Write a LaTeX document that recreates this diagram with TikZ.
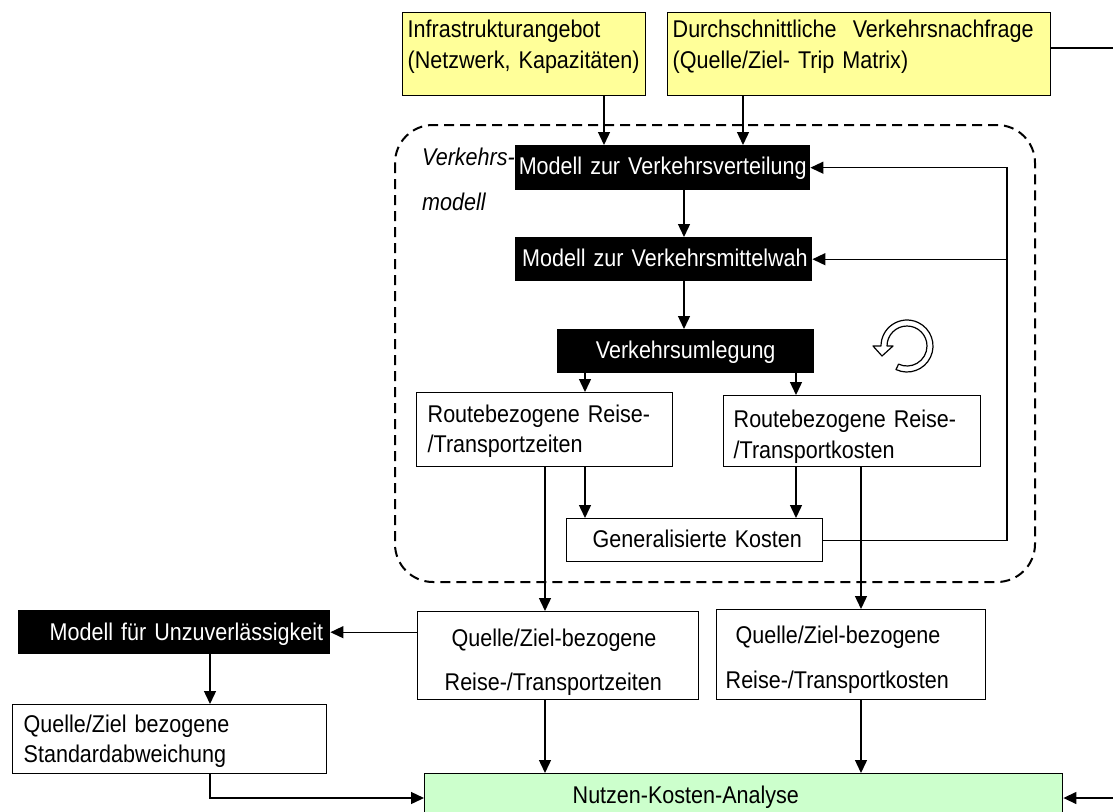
\documentclass[tikz,border=0pt]{standalone}
\usepackage{fontspec}
\setmainfont{Liberation Sans}[FakeStretch=0.89]
\usetikzlibrary{arrows.meta}
\definecolor{inputyellow}{HTML}{FFFF99}
\definecolor{resultgreen}{HTML}{CCFFCC}
\newcommand{\diafont}{\fontsize{24.2}{31}\selectfont}
\tikzset{
  % rect={left}{top}{right}{bottom}{first baseline}{side padding}
  rect/.code n args={6}{%
    \pgfmathsetmacro\rectw{#3-#1-2*#6}%
    \pgfmathsetmacro\recth{#5-#2}%
    \pgfmathsetmacro\rectd{#4-#5}%
    \edef\rectnext{\noexpand\tikzset{anchor=north west, at={(#1,#2)},
      inner xsep=#6pt, inner ysep=0pt, text width=\rectw pt,
      text height=\recth pt, text depth=\rectd pt}}%
    \rectnext},
  whitebox/.style={draw, fill=white, line width=1.4pt, align=left, font=\diafont},
  yellowbox/.style={whitebox, fill=inputyellow},
  greenbox/.style={whitebox, fill=resultgreen},
  blackbox/.style={fill=black, text=white, align=center, font=\diafont},
  arr/.style={line width=1.4pt, -{Triangle[length=13pt,width=12pt]}},
  link/.style={line width=1.4pt},
  modelframe/.style={line width=2pt, dash pattern=on 10pt off 6pt, rounded corners=38pt},
}
\begin{document}
\begin{tikzpicture}[x=1pt,y=-1pt]
\useasboundingbox (0,0) rectangle (1113,811);
\clip (0,0) rectangle (1113,811);

% frame of the traffic model
\draw[modelframe] (395,125) rectangle (1035,582);
\node[align=left, font=\diafont\itshape, rect={422}{143}{520}{230}{165}{0}] (label) {Verkehrs-\\[14pt]modell};

% inputs
\node[yellowbox, rect={402}{12}{645}{95}{37}{5}] (Y1) {Infrastrukturangebot\\(Netzwerk, Kapazitäten)};
\node[yellowbox, rect={667}{12}{1050}{95}{37}{5}] (Y2) {Durchschnittliche\ \ Verkehrsnachfrage\\(Quelle/Ziel- Trip Matrix)};

% model stages
\node[blackbox, rect={515}{145}{810}{190}{174}{2}] (V1) {Modell zur Verkehrsverteilung};
\node[blackbox, align=left, rect={515}{237}{812}{281}{266}{2}] (V2) {\hspace*{5pt}Modell zur Verkehrsmittelwah};
\node[blackbox, rect={557}{329}{814}{373}{358}{2}] (V3) {Verkehrsumlegung};

\node[whitebox, rect={416}{392}{672}{466}{422}{11}] (Rz) {Routebezogene Reise-\\[-1pt]/Transportzeiten};
\node[whitebox, rect={723}{395}{980}{466}{427}{10}] (Rk) {Routebezogene Reise-\\/Transportkosten};
\node[whitebox, rect={566}{518}{822}{561}{547}{10}] (Gen) {\hspace*{16pt}Generalisierte Kosten};

% results
\node[whitebox, rect={417}{611}{698}{699}{646}{27}] (QZz) {\hspace*{7pt}Quelle/Ziel-bezogene\\[13pt]Reise-/Transportzeiten};
\node[whitebox, rect={716}{609}{985}{699}{643}{9}] (QZk) {\hspace*{10pt}Quelle/Ziel-bezogene\\[14pt]Reise-/Transportkosten};
\node[blackbox, align=right, rect={18}{610}{330}{654}{640}{7}] (BU) {Modell für Unzuverlässigkeit};
\node[whitebox, rect={12}{704}{326}{773}{732}{11}] (Std) {Quelle/Ziel bezogene\\[-1pt]Standardabweichung};
\node[greenbox, rect={424}{773}{1062}{840}{803}{148}] (NKA) {Nutzen-Kosten-Analyse};

% iteration symbol
\draw[line width=1.2pt, fill=white, line join=round]
  (907,346) ++(-115:26pt) arc[start angle=-115, end angle=180, radius=26pt]
  -- (873,346) -- (882,356) -- (893,346) -- (887,346)
  arc[start angle=180, end angle=-115, radius=20pt] -- cycle;

% guide coordinates
\coordinate (xa) at (604,0);
\coordinate (xb) at (743,0);
\coordinate (xc) at (684,0);
\coordinate (xd) at (585,0);
\coordinate (xe) at (796,0);
\coordinate (xf) at (1007,0);
\coordinate (xg) at (545,0);
\coordinate (xh) at (861,0);
\coordinate (xi) at (210,0);
\coordinate (edge) at (1113,0);
\coordinate (yd) at (0,48);
\coordinate (yn) at (0,798);

% connectors
\draw[arr] (Y1.south -| xa) -- (V1.north -| xa);
\draw[arr] (Y2.south -| xb) -- (V1.north -| xb);
\draw[link] (Y2.east |- yd) -- (edge |- yd);
\draw[arr] (V1.south -| xc) -- (V2.north -| xc);
\draw[arr] (V2.south -| xc) -- (V3.north -| xc);
\draw[arr] (V3.south -| xd) -- (Rz.north -| xd);
\draw[arr] (V3.south -| xe) -- (Rk.north -| xe);
\draw[arr] (Rz.south -| xd) -- (Gen.north -| xd);
\draw[arr] (Rk.south -| xe) -- (Gen.north -| xe);
\draw[arr] (Gen.east) -| (xf |- V1.east) -- (V1.east);
\draw[arr] (xf |- V2.east) -- (V2.east);
\draw[arr] (Rz.south -| xg) -- (QZz.north -| xg);
\draw[arr] (Rk.south -| xh) -- (QZk.north -| xh);
\draw[arr] (QZz.west |- BU.east) -- (BU.east);
\draw[arr] (BU.south -| xi) -- (Std.north -| xi);
\draw[arr] (Std.south -| xi) |- (NKA.west |- yn);
\draw[arr] (QZz.south -| xg) -- (NKA.north -| xg);
\draw[arr] (QZk.south -| xh) -- (NKA.north -| xh);
\draw[arr] (edge |- yn) -- (NKA.east |- yn);
\end{tikzpicture}
\end{document}
